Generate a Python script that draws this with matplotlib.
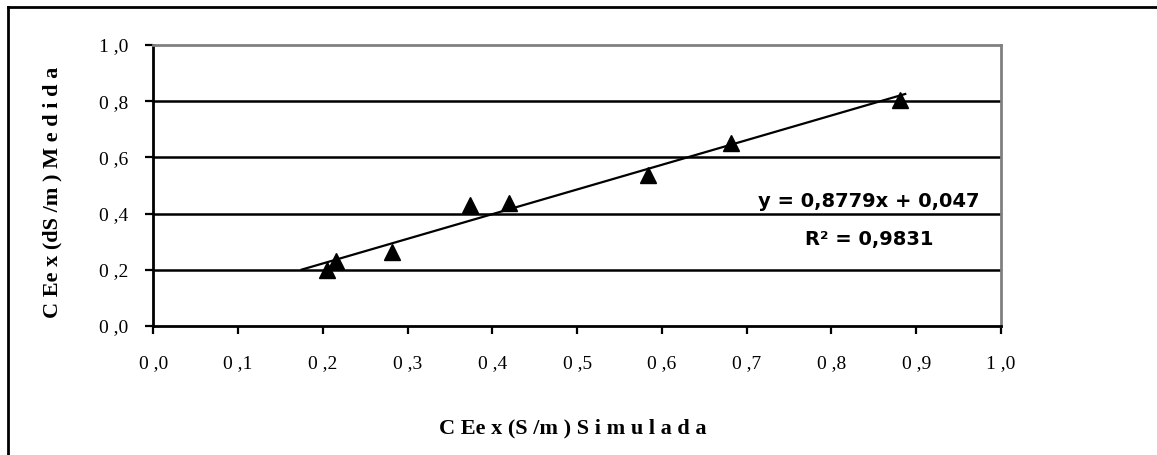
import numpy as np
import matplotlib.pyplot as plt
from matplotlib.lines import Line2D

# CEex simulada (S/m) vs medida (dS/m)
simulada = [0.205, 0.216, 0.282, 0.374, 0.419, 0.583, 0.682, 0.881]
medida = [0.198, 0.230, 0.265, 0.432, 0.438, 0.538, 0.651, 0.805]

# linear trend as printed on the chart
slope = 0.8779
intercept = 0.047
r2 = 0.9831
trend_range = [0.175, 0.887]

xticks = [0.0, 0.1, 0.2, 0.3, 0.4, 0.5, 0.6, 0.7, 0.8, 0.9, 1.0]
yticks = [0.0, 0.2, 0.4, 0.6, 0.8, 1.0]


def fmt(v):
    return ("%.1f" % v).replace(".", " ,")


fig = plt.figure(figsize=(11.57, 4.55), dpi=100)
ax = fig.add_axes([0.1325, 0.2835, 0.7327, 0.6176])

serif = "Liberation Serif"

ax.set_xlim(0, 1)
ax.set_ylim(0, 1)
ax.set_xticks(xticks)
ax.set_yticks(yticks)
ax.set_xticklabels([fmt(v) for v in xticks], family=serif, fontsize=14)
ax.set_yticklabels([fmt(v) for v in yticks], family=serif, fontsize=14)
ax.tick_params(axis="x", direction="out", length=6, width=1.6, pad=15)
ax.tick_params(axis="y", direction="out", length=6, width=1.6, pad=12)

# black gridlines
for v in yticks[1:-1]:
    ax.axhline(v, color="black", lw=1.8, zorder=1)

ax.spines["left"].set_linewidth(2)
ax.spines["bottom"].set_linewidth(2)
ax.spines["top"].set_color("#808080")
ax.spines["right"].set_color("#808080")
ax.spines["top"].set_linewidth(2)
ax.spines["right"].set_linewidth(2)

# trend line
tx = np.array(trend_range)
ax.plot(tx, slope * tx + intercept, color="black", lw=1.6, zorder=3)

# points
ax.plot(simulada, medida, linestyle="none", marker="^", markersize=11.5,
        color="black", zorder=4, clip_on=False)

eq = "y = %.4fx + %.3f" % (slope, intercept)
ax.text(0.844, 0.4246, eq.replace(".", ","), ha="center", va="baseline",
        fontsize=14, fontweight="bold", family="DejaVu Sans")
ax.text(0.844, 0.288, ("R² = %.4f" % r2).replace(".", ","), ha="center",
        va="baseline", fontsize=14, fontweight="bold", family="DejaVu Sans")

# axis titles
fig.text(0.495, 0.059, "C Ee x (S /m ) S i m u l a d a", ha="center", va="center",
         family=serif, fontsize=16, fontweight="bold")
fig.text(0.045, 0.578, "C Ee x (dS /m ) M e d i d a", ha="center", va="center",
         rotation=90, family=serif, fontsize=16, fontweight="bold")

# outer frame (top and left only visible)
fig.add_artist(Line2D([0.0072, 1.0], [0.984, 0.984], color="black", lw=2,
                      transform=fig.transFigure))
fig.add_artist(Line2D([0.0072, 0.0072], [0.0, 0.984], color="black", lw=2,
                      transform=fig.transFigure))

fig.savefig("out.png", dpi=100)
